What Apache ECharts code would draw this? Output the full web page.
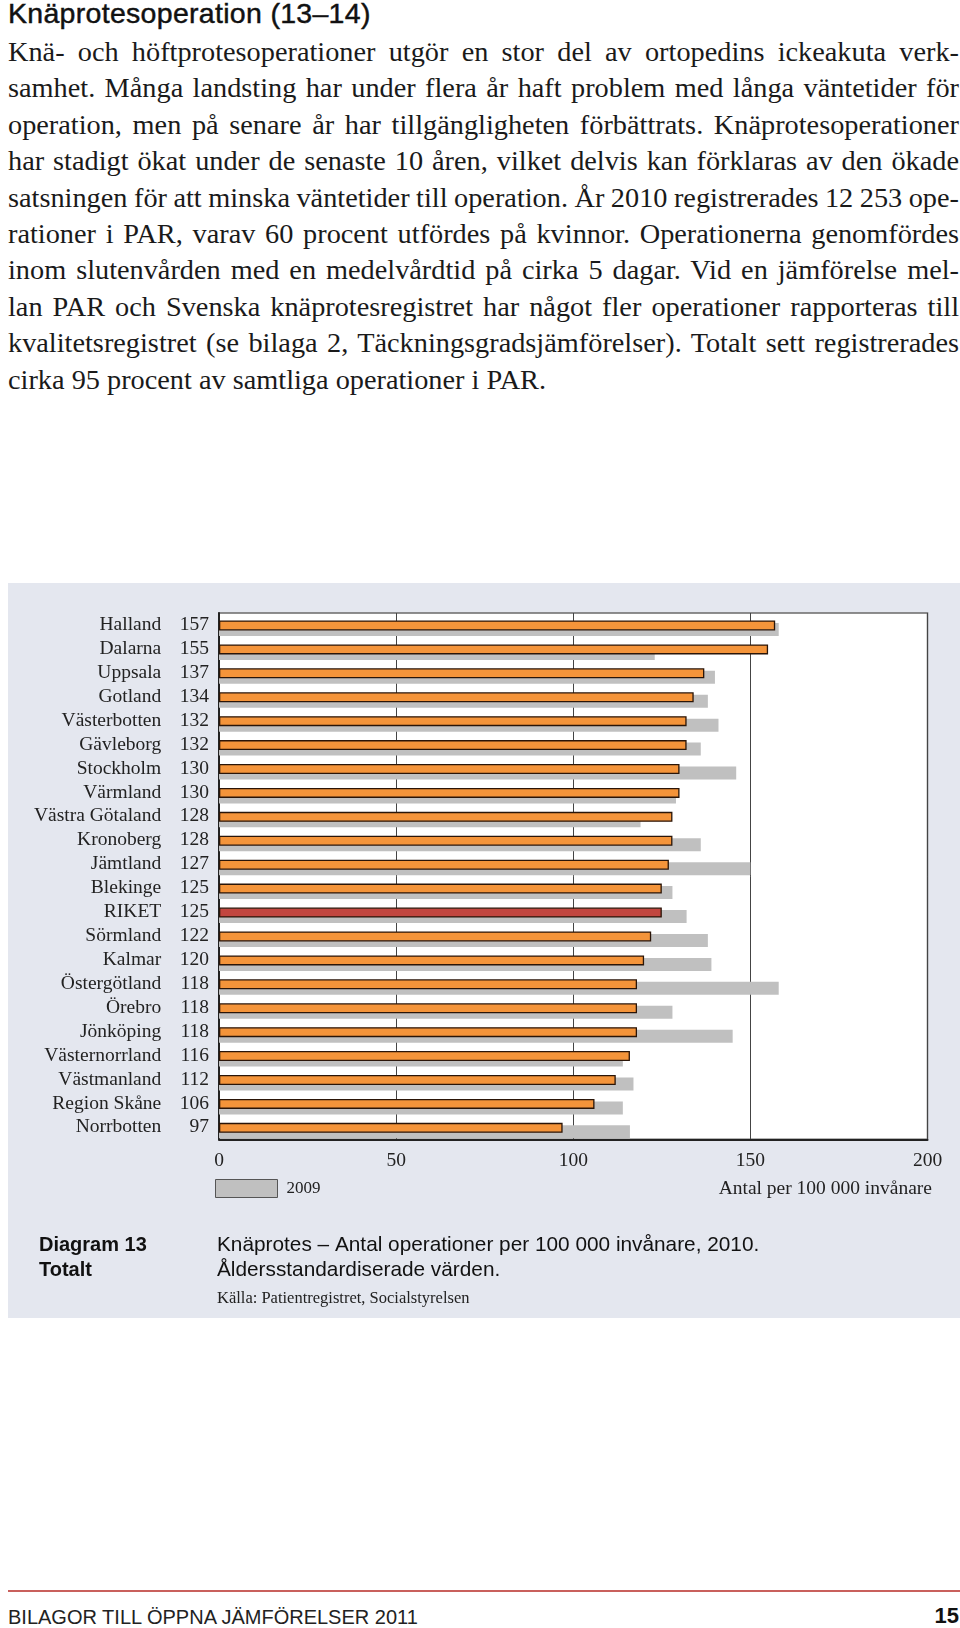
<!DOCTYPE html>
<html>
<head>
<meta charset="utf-8">
<script src="https://cdn.jsdelivr.net/npm/echarts@6/dist/echarts.min.js"></script>
<style>
html,body{margin:0;padding:0;background:#fff;}
body{width:960px;height:1628px;position:relative;overflow:hidden;color:#1a1a1a;}
#heading{position:absolute;left:8px;top:-1px;font-family:"Liberation Sans",Arial,sans-serif;font-size:28.5px;line-height:28px;letter-spacing:0.3px;white-space:nowrap;color:#111;-webkit-text-stroke:0.45px #111;}
#para{position:absolute;left:8px;top:34px;width:951px;font-family:"Liberation Serif","Times New Roman",serif;font-size:28.3px;}
#para .ln{height:36.4px;line-height:36.4px;white-space:nowrap;}
#para .ln span{display:inline-block;transform-origin:0 50%;}
#chart{position:absolute;left:8px;top:583px;width:952px;height:735px;background:#e4e7ef;}
#rule{position:absolute;left:8px;top:1590px;width:952px;height:2px;background:#c9605c;}
#foot{position:absolute;left:8px;top:1605px;font-family:"Liberation Sans",Arial,sans-serif;font-size:20px;line-height:24px;color:#222;white-space:nowrap;}
#pno{position:absolute;right:1px;top:1604px;font-family:"Liberation Sans",Arial,sans-serif;font-weight:bold;font-size:22px;line-height:24px;color:#111;}
</style>
</head>
<body>
<div id="heading">Knäprotesoperation (13–14)</div>
<div id="para"></div>
<div id="chart"></div>
<div id="rule"></div>
<div id="foot">BILAGOR TILL ÖPPNA JÄMFÖRELSER 2011</div>
<div id="pno">15</div>
<script>
// ---- text ----
const paraLines = [
  "Knä- och höftprotesoperationer utgör en stor del av ortopedins ickeakuta verk-",
  "samhet. Många landsting har under flera år haft problem med långa väntetider för",
  "operation, men på senare år har tillgängligheten förbättrats. Knäprotesoperationer",
  "har stadigt ökat under de senaste 10 åren, vilket delvis kan förklaras av den ökade",
  "satsningen för att minska väntetider till operation. År 2010 registrerades 12 253 ope-",
  "rationer i PAR, varav 60 procent utfördes på kvinnor. Operationerna genomfördes",
  "inom slutenvården med en medelvårdtid på cirka 5 dagar. Vid en jämförelse mel-",
  "lan PAR och Svenska knäprotesregistret har något fler operationer rapporteras till",
  "kvalitetsregistret (se bilaga 2, Täckningsgradsjämförelser). Totalt sett registrerades",
  "cirka 95 procent av samtliga operationer i PAR."
];

// ---- chart data ----
const categories = ['Halland','Dalarna','Uppsala','Gotland','Västerbotten','Gävleborg','Stockholm','Värmland','Västra Götaland','Kronoberg','Jämtland','Blekinge','RIKET','Sörmland','Kalmar','Östergötland','Örebro','Jönköping','Västernorrland','Västmanland','Region Skåne','Norrbotten'];
const values2010 = [157,155,137,134,132,132,130,130,128,128,127,125,125,122,120,118,118,118,116,112,106,97];
const values2009 = [158,123,140,138,141,136,146,129,119,136,150,128,132,138,139,158,128,145,114,117,114,116];
const xTicks = [0,50,100,150,200];
const legendLabel = '2009';
const unitLabel = 'Antal per 100 000 invånare';
const captionLeft = 'Diagram 13\nTotalt';
const captionRight = 'Knäprotes – Antal operationer per 100 000 invånare, 2010.\nÅldersstandardiserade värden.';
const sourceText = 'Källa: Patientregistret, Socialstyrelsen';

// paragraph with justified lines
const para = document.getElementById('para');
const W = 951;
paraLines.forEach((t, i) => {
  const d = document.createElement('div');
  d.className = 'ln';
  const s = document.createElement('span');
  s.textContent = t;
  d.appendChild(s);
  para.appendChild(d);
  if (i < paraLines.length - 1) {
    const w = s.getBoundingClientRect().width;
    const spaces = (t.match(/ /g) || []).length;
    let extra = (W - w) / spaces;
    if (extra < -2.5) {
      s.style.wordSpacing = '-2.5px';
      const w2 = s.getBoundingClientRect().width;
      s.style.transform = 'scaleX(' + (W / w2) + ')';
    } else {
      s.style.wordSpacing = extra + 'px';
    }
  }
});

const serif = '"Liberation Serif","Times New Roman",serif';
const sans = '"Liberation Sans",Arial,sans-serif';
const orange = '#f4943a';
const riket = '#c2463f';
const gray = '#c0c0c0';

const chart = echarts.init(document.getElementById('chart'), null, {renderer: 'canvas'});
const gridLeft = 211, gridTop = 30, gridW = 708.5, gridH = 526.3, shift = 3.25;

chart.setOption({
  animation: false,
  backgroundColor: '#e4e7ef',
  title: [
    {text: captionLeft, left: 31, top: 649.5, padding: 0,
     textStyle: {fontFamily: sans, fontSize: 20, fontWeight: 'bold', lineHeight: 25, color: '#111'}},
    {text: captionRight, left: 209, top: 649.5, padding: 0,
     textStyle: {fontFamily: sans, fontSize: 20.8, fontWeight: 'normal', lineHeight: 25, color: '#111'}},
    {text: sourceText, left: 209, top: 706, padding: 0,
     textStyle: {fontFamily: serif, fontSize: 16.5, fontWeight: 'normal', lineHeight: 20, color: '#222'}},
    {text: unitLabel, right: 28, top: 595, padding: 0,
     textStyle: {fontFamily: serif, fontSize: 19.5, fontWeight: 'normal', lineHeight: 22, color: '#222'}}
  ],
  legend: {
    data: [legendLabel], left: 207, top: 596, padding: 0,
    itemWidth: 62, itemHeight: 18, icon: 'rect', selectedMode: false,
    itemStyle: {borderColor: '#555', borderWidth: 1},
    textStyle: {fontFamily: serif, fontSize: 17, color: '#222', padding: [0, 0, 0, 4]}
  },
  grid: [
    {left: gridLeft, top: gridTop, width: gridW, height: gridH, show: true,
     backgroundColor: '#fff', borderColor: '#6a6a6a', borderWidth: 1.5},
    {left: gridLeft, top: gridTop + shift, width: gridW, height: gridH, show: false}
  ],
  xAxis: [
    {type: 'value', gridIndex: 0, min: xTicks[0], max: xTicks[xTicks.length - 1], interval: 50,
     axisLine: {show: true, lineStyle: {color: '#222', width: 2}},
     axisTick: {show: false},
     splitLine: {show: true, lineStyle: {color: '#444', width: 1}},
     axisLabel: {margin: 12, fontFamily: serif, fontSize: 19.5, color: '#222'}},
    {type: 'value', gridIndex: 1, min: xTicks[0], max: xTicks[xTicks.length - 1], show: false}
  ],
  yAxis: [
    {type: 'category', gridIndex: 0, data: categories, inverse: true,
     axisLine: {show: true, lineStyle: {color: '#222', width: 2}},
     axisTick: {show: false},
     axisLabel: {
       margin: 10, interval: 0,
       formatter: (val, idx) => '{n|' + val + '}{v|' + values2010[idx] + '}',
       rich: {
         n: {fontFamily: serif, fontSize: 19.5, color: '#222'},
         v: {fontFamily: serif, fontSize: 19.5, color: '#222', width: 47.8, align: 'right'}
       }
     }},
    {type: 'category', gridIndex: 1, data: categories, inverse: true, show: false}
  ],
  series: [
    {name: '2010', type: 'bar', xAxisIndex: 1, yAxisIndex: 1, data: values2010,
     barWidth: 10, barGap: '-75%', z: 3,
     itemStyle: {
       color: p => (p.name === 'RIKET' ? riket : orange),
       borderColor: '#2a1508', borderWidth: 1.3
     }},
    {name: legendLabel, type: 'bar', xAxisIndex: 1, yAxisIndex: 1, data: values2009,
     barWidth: 13, barGap: '-75%', z: 2,
     itemStyle: {color: gray}}
  ]
});
</script>
</body>
</html>
